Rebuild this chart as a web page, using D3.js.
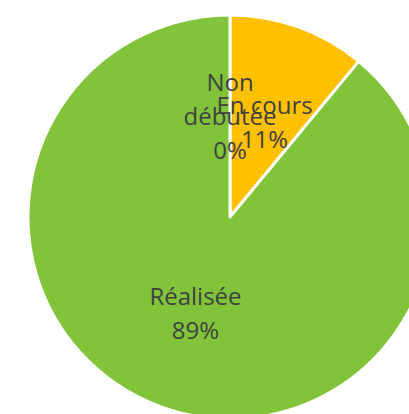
<!DOCTYPE html>
<html><head><meta charset="utf-8">
<script src="https://cdn.jsdelivr.net/npm/d3@7"></script>
<style>html,body{margin:0;padding:0;background:#fff;overflow:hidden}</style>
</head><body>
<svg id="c" width="409" height="414"></svg>
<script>
const categories = ["Non débutée", "En cours", "Réalisée"];
const values = [0, 11, 89];
const labelLines = [["Non", "débutée", "0%"], ["En cours", "11%"], ["Réalisée", "89%"]];
const colors = ["#4472C4", "#FFC000", "#81C43A"];

const svg = d3.select("#c");
const cx = 230, cy = 217, R = 202, labelR = 102, lineH = 34;
const g = svg.append("g").attr("transform", `translate(${cx},${cy})`);
const pie = d3.pie().sort(null).value(d => d)(values);
const arc = d3.arc().innerRadius(0).outerRadius(R);
const color = d3.scaleOrdinal().domain(categories).range(colors);

g.selectAll("path.slice").data(pie).join("path")
  .attr("class", "slice")
  .attr("d", arc)
  .attr("fill", (d, i) => color(categories[i]))
  .attr("stroke", "#fff").attr("stroke-width", 3).attr("stroke-linejoin", "round");

const lab = d3.arc().innerRadius(labelR).outerRadius(labelR);
pie.forEach((d, i) => {
  const [x, y] = lab.centroid(d);
  const lines = labelLines[i];
  const t = g.append("text")
    .attr("text-anchor", "middle")
    .attr("font-family", "'Open Sans', sans-serif")
    .attr("font-size", 24)
    .attr("fill", "#404040");
  lines.forEach((s, k) => {
    t.append("tspan").attr("x", x)
      .attr("y", y + (k - (lines.length - 1) / 2) * lineH)
      .attr("dominant-baseline", "central")
      .text(s);
  });
});
</script>
</body></html>
